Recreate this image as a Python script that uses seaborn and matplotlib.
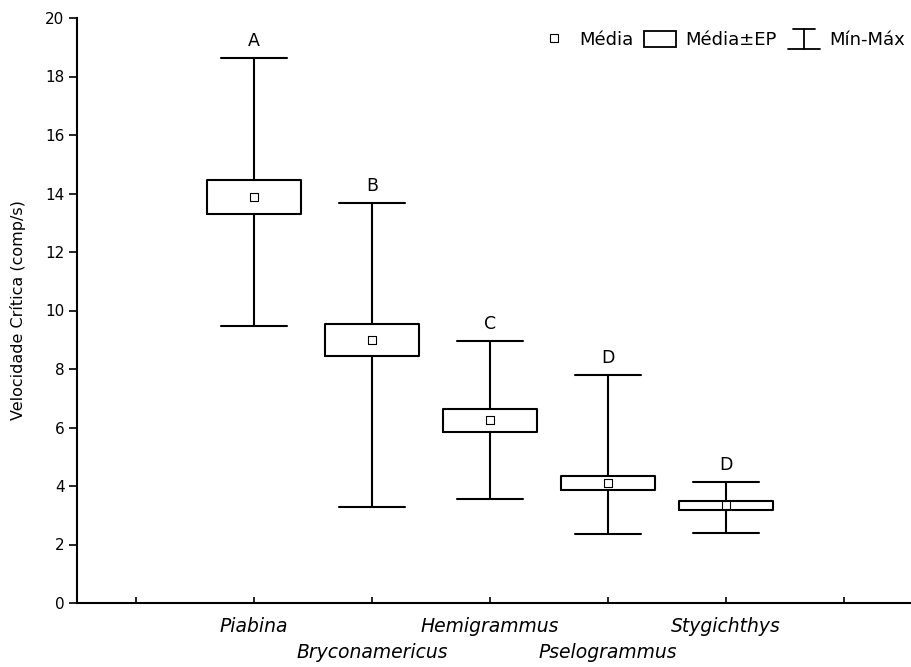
import matplotlib
matplotlib.use("Agg")
import matplotlib.pyplot as plt
from matplotlib.legend_handler import HandlerBase
from matplotlib.lines import Line2D
from matplotlib.patches import Rectangle
import numpy as np
import pandas as pd
import seaborn as sns

# Critical swimming speed per genus: mean, standard error, min and max
species = ["Piabina", "Bryconamericus", "Hemigrammus", "Pselogrammus", "Stygichthys"]
mean_vals = [13.88, 8.99, 6.24, 4.11, 3.34]
se_vals = [0.58, 0.55, 0.39, 0.24, 0.16]
min_vals = [9.47, 3.28, 3.56, 2.36, 2.39]
max_vals = [18.63, 13.68, 8.96, 7.78, 4.14]
group_letters = ["A", "B", "C", "D", "D"]
legend_labels = ["Média", "Média±EP", "Mín-Máx"]

sns.set_theme(style="white")
plt.rcParams["font.family"] = ["DejaVu Sans"]
plt.rcParams.update({
    "text.color": "black",
    "axes.labelcolor": "black",
    "xtick.color": "black",
    "ytick.color": "black",
})

# Five summary values per genus: the box spans mean±SE and the whiskers min–max
rows = []
for sp, m, se, lo, hi in zip(species, mean_vals, se_vals, min_vals, max_vals):
    for v in (lo, m - se, m, m + se, hi):
        rows.append({"species": sp, "value": v})
df = pd.DataFrame(rows)
means_df = pd.DataFrame({"species": species, "mean": mean_vals})

fig = plt.figure(figsize=(9.11, 6.67), dpi=100)
ax = fig.add_axes([77 / 911, 1 - 603 / 667, 1 - 77 / 911, (603 - 18) / 667])

lw = 1.5
sns.boxplot(
    data=df, x="species", y="value", order=species, ax=ax,
    whis=(0, 100), width=0.8, fill=False, color="black", linecolor="black",
    linewidth=lw, showfliers=False, capwidths=0.56,
    medianprops=dict(linewidth=0),
)
sns.scatterplot(
    data=means_df, x="species", y="mean", ax=ax, marker="s", s=40,
    color="white", edgecolor="black", linewidth=0.8, zorder=5, legend=False,
)

for i, (letter, hi) in enumerate(zip(group_letters, max_vals)):
    ax.annotate(letter, (i, hi), xytext=(0, 6), textcoords="offset points",
                ha="center", va="bottom", fontsize=12.5, color="black")

ax.set_ylim(0, 20)
ax.set_xlim(-1.5, 5.57)
ax.set_yticks(np.arange(0, 21, 2))
ax.set_yticklabels([str(v) for v in range(0, 21, 2)], fontsize=11)

# Genus names alternate between two rows
ax.set_xticks([-1, 0, 2, 4, 5])
ax.set_xticklabels(["", species[0], species[2], species[4], ""],
                   fontsize=13.5, style="italic")
ax.set_xticks([1, 3], minor=True)
ax.set_xticklabels([species[1], species[3]], minor=True,
                   fontsize=13.5, style="italic")
ax.tick_params(axis="x", which="both", direction="in", length=4, width=1.2,
               color="black", bottom=True)
ax.tick_params(axis="x", which="major", pad=10)
ax.tick_params(axis="x", which="minor", pad=29)
ax.tick_params(axis="y", direction="out", length=6, width=1.2, color="black",
               left=True, pad=3)

ax.set_xlabel("")
ax.set_ylabel("Velocidade Crítica (comp/s)", fontsize=11.5, labelpad=14)
for side in ("top", "right"):
    ax.spines[side].set_visible(False)
for side in ("left", "bottom"):
    ax.spines[side].set_color("black")
    ax.spines[side].set_linewidth(1.5)


class WhiskerHandler(HandlerBase):
    def create_artists(self, legend, orig_handle, xdescent, ydescent,
                       width, height, fontsize, trans):
        cx = -xdescent + width / 2
        y0 = -ydescent - 0.1 * height
        y1 = -ydescent + 1.1 * height
        half_top = 0.35 * width
        kw = dict(color="black", linewidth=1.3, transform=trans)
        return [
            Line2D([cx, cx], [y0, y1], **kw),
            Line2D([cx - half_top, cx + half_top], [y1, y1], **kw),
            Line2D([-xdescent, -xdescent + width], [y0, y0], **kw),
        ]


mean_handle = Line2D([], [], linestyle="none", marker="s", markersize=6,
                     markerfacecolor="white", markeredgecolor="black",
                     markeredgewidth=0.8)
box_handle = Rectangle((0, 0), 1, 1, facecolor="white", edgecolor="black",
                       linewidth=1.3)
whisker_handle = Line2D([], [], color="black")

ax.legend(
    [mean_handle, box_handle, whisker_handle], legend_labels,
    handler_map={whisker_handle: WhiskerHandler()},
    loc="upper right", bbox_to_anchor=(905 / 911, 1 - 31 / 667),
    bbox_transform=fig.transFigure, ncol=3, frameon=False, fontsize=13,
    handlelength=1.8, handleheight=1.0, handletextpad=0.5,
    columnspacing=0.6, borderpad=0, borderaxespad=0,
)

fig.savefig("out.png", dpi=100, facecolor="white")
